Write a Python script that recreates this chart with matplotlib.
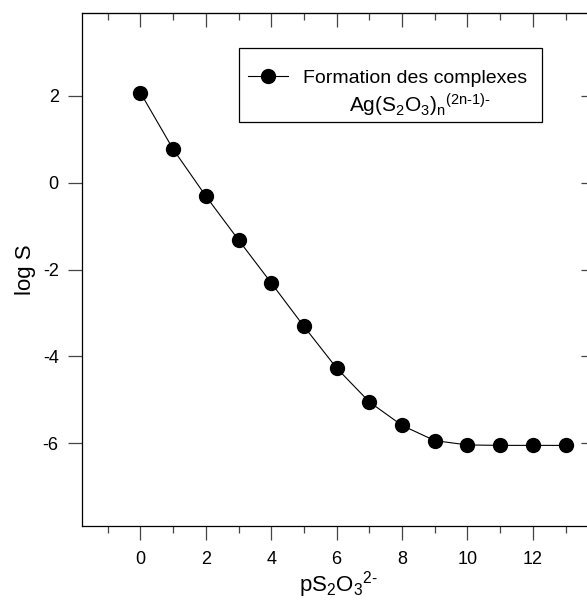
import matplotlib
matplotlib.use("Agg")
import matplotlib.pyplot as plt
from matplotlib.ticker import MultipleLocator
from matplotlib.patches import Rectangle

plt.rcParams['font.family'] = ['Liberation Sans', 'DejaVu Sans']
plt.rcParams['mathtext.fontset'] = 'custom'
plt.rcParams['mathtext.rm'] = 'Liberation Sans'
plt.rcParams['mathtext.it'] = 'Liberation Sans'
plt.rcParams['mathtext.default'] = 'regular'
plt.rcParams['axes.unicode_minus'] = False

# pS2O3(2-) vs log S
p_s2o3 = [0, 1, 2, 3, 4, 5, 6, 7, 8, 9, 10, 11, 12, 13]
log_s = [2.07, 0.77, -0.31, -1.32, -2.31, -3.31, -4.27, -5.05, -5.59, -5.94,
         -6.04, -6.05, -6.05, -6.05]
label_line1 = "Formation des complexes"
label_line2 = r"Ag(S$_2$O$_3$)$_n$$^{\text{(2n-1)-}}$"

fig = plt.figure(figsize=(5.87, 6.04), dpi=100)
ax = fig.add_axes([0.139, 0.1296, 0.8746, 0.8484])

ax.plot(p_s2o3, log_s, color='black', lw=0.8, marker='o', markersize=10,
        label=label_line1)

ax.set_xlim(-1.8, 13.9)
ax.set_ylim(-7.9, 3.9)
ax.xaxis.set_major_locator(MultipleLocator(2))
ax.xaxis.set_minor_locator(MultipleLocator(1))
ax.yaxis.set_major_locator(MultipleLocator(2))
ax.tick_params(axis='both', which='major', direction='out', length=10,
               width=0.9, color='#444444', labelsize=13)
ax.tick_params(axis='x', which='minor', direction='out', length=5,
               width=0.9, color='#444444')
ax.tick_params(axis='x', which='major', pad=8)
ax.tick_params(axis='y', which='major', pad=6.5)
for sp in ax.spines.values():
    sp.set_linewidth(0.9)

# top / right ticks point inward
top = ax.secondary_xaxis('top')
top.xaxis.set_major_locator(MultipleLocator(2))
top.xaxis.set_minor_locator(MultipleLocator(1))
top.tick_params(which='major', direction='in', length=10, width=0.9,
                color='#444444', labeltop=False)
top.tick_params(which='minor', direction='in', length=5, width=0.9,
                color='#444444')
right = ax.secondary_yaxis('right')
right.yaxis.set_major_locator(MultipleLocator(2))
right.tick_params(which='major', direction='in', length=10, width=0.9,
                  color='#444444', labelright=False)

ax.set_xlabel(r"pS$_2$O$_3$$^{\text{2-}}$", fontsize=16, labelpad=1)
ax.set_ylabel("log S", fontsize=16, labelpad=5)

# legend: marker + first line, second line below, frame around both
ax.legend(loc='center left', bbox_to_anchor=(0.3234, 0.873),
          borderaxespad=0, borderpad=0, fontsize=14, frameon=False,
          handlelength=2.1, handletextpad=0.76)
ax.text(0.659, 0.807, label_line2, transform=ax.transAxes, fontsize=15,
        ha='center', va='baseline')
ax.add_patch(Rectangle((0.3064, 0.7873), 0.5904, 0.1444,
                       transform=ax.transAxes, fill=False,
                       edgecolor='black', lw=0.9, zorder=5))

fig.savefig("out.png", dpi=100)
